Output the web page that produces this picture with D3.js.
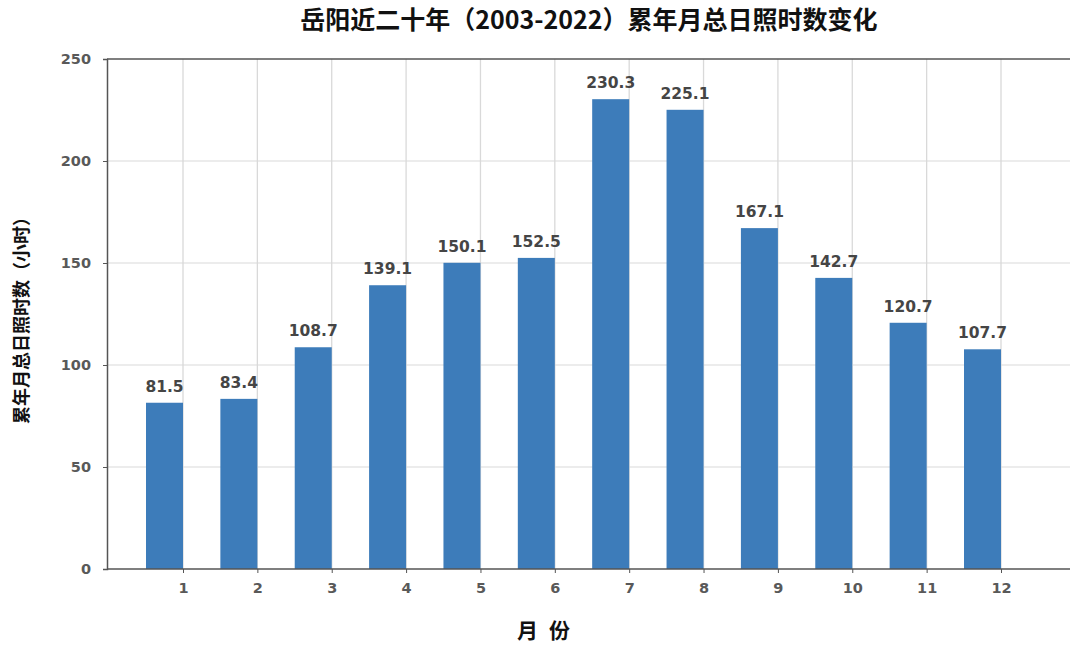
<!DOCTYPE html>
<html>
<head>
<meta charset="utf-8">
<script src="https://cdn.jsdelivr.net/npm/d3@7"></script>
<style>
  html, body { margin: 0; padding: 0; background: #fff; }
  svg { display: block; }
</style>
</head>
<body>
<svg id="chart" width="1071" height="645"></svg>
<script>
// Monthly sunshine hours, Yueyang, 2003–2022 averages
const months = [1, 2, 3, 4, 5, 6, 7, 8, 9, 10, 11, 12];
const sunshineHours = [81.5, 83.4, 108.7, 139.1, 150.1, 152.5, 230.3, 225.1, 167.1, 142.7, 120.7, 107.7];
const yTicks = [0, 50, 100, 150, 200, 250];

const titleText = "岳阳近二十年（2003-2022）累年月总日照时数变化";
const yTitle = "累年月总日照时数（小时）";
const xTitle = "月 份";

const svg = d3.select("#chart");
const plotLeft = 107, plotRight = 1070, plotTop = 59, plotBottom = 569;

const numFont = "'DejaVu Sans', Verdana, sans-serif";
const cjkFont = "'Noto Sans CJK SC', sans-serif";

// month positions: tick k sits at the right edge of its bar
const x = d3.scaleLinear().domain([1, 12]).range([183, 1001]);
const y = d3.scaleLinear().domain([0, 250]).range([plotBottom, plotTop]);
const barW = 37;

// horizontal grid
svg.append("g").selectAll("line")
  .data(yTicks.filter(t => t > 0 && t < 250))
  .join("line")
  .attr("x1", plotLeft).attr("x2", plotRight)
  .attr("y1", d => y(d)).attr("y2", d => y(d))
  .attr("stroke", "#d9d9d9").attr("stroke-width", 1);

// vertical grid at month ticks
svg.append("g").selectAll("line")
  .data(months)
  .join("line")
  .attr("x1", d => x(d)).attr("x2", d => x(d))
  .attr("y1", plotTop).attr("y2", plotBottom)
  .attr("stroke", "#d9d9d9").attr("stroke-width", 1.3);

// top border at 250
svg.append("line")
  .attr("x1", plotLeft).attr("x2", plotRight)
  .attr("y1", y(250)).attr("y2", y(250))
  .attr("stroke", "#555").attr("stroke-width", 1.5);

// bars
svg.append("g").selectAll("rect")
  .data(months)
  .join("rect")
  .attr("x", (d) => x(d) - barW)
  .attr("width", barW)
  .attr("y", (d, i) => y(sunshineHours[i]))
  .attr("height", (d, i) => y(0) - y(sunshineHours[i]))
  .attr("fill", "#3d7cba");

// value labels
svg.append("g").selectAll("text")
  .data(months)
  .join("text")
  .attr("x", d => x(d) - barW / 2)
  .attr("y", (d, i) => y(sunshineHours[i]) - 11)
  .attr("text-anchor", "middle")
  .attr("font-family", numFont)
  .attr("font-weight", "bold")
  .attr("font-size", "15.5px")
  .attr("fill", "#454545")
  .text((d, i) => sunshineHours[i].toFixed(1));

// y axis
const yAxis = d3.axisLeft(y).tickValues(yTicks).tickSize(4).tickPadding(12);
const gy = svg.append("g").attr("transform", `translate(${plotLeft},0)`).call(yAxis);
gy.select(".domain").attr("stroke", "#555").attr("stroke-width", 1.5);
gy.selectAll(".tick line").attr("stroke", "#555");
gy.selectAll(".tick text")
  .attr("font-family", numFont).attr("font-weight", "bold")
  .attr("font-size", "14.5px").attr("fill", "#595959");

// x axis
const xAxis = d3.axisBottom(x).tickValues(months).tickSize(4).tickPadding(10).tickFormat(d3.format("d"));
const gx = svg.append("g").attr("transform", `translate(0,${plotBottom})`).call(xAxis);
gx.select(".domain").remove();
gx.append("line")
  .attr("x1", plotLeft).attr("x2", plotRight)
  .attr("y1", 0).attr("y2", 0)
  .attr("stroke", "#555").attr("stroke-width", 1.5);
gx.selectAll(".tick line").attr("stroke", "#555");
gx.selectAll(".tick text")
  .attr("font-family", numFont).attr("font-weight", "bold")
  .attr("font-size", "14.5px").attr("fill", "#595959");

// titles
svg.append("text")
  .attr("x", 589).attr("y", 29)
  .attr("text-anchor", "middle")
  .attr("font-family", cjkFont).attr("font-weight", "bold")
  .attr("font-size", "25px").attr("fill", "#111")
  .text(titleText);

svg.append("text")
  .attr("transform", "translate(28,316) rotate(-90)")
  .attr("text-anchor", "middle")
  .attr("font-family", cjkFont).attr("font-weight", "bold")
  .attr("font-size", "18px").attr("fill", "#111")
  .text(yTitle);

svg.append("text")
  .attr("x", 545).attr("y", 638)
  .attr("text-anchor", "middle")
  .attr("font-family", cjkFont).attr("font-weight", "bold")
  .attr("font-size", "21px").attr("letter-spacing", "3px").attr("fill", "#111")
  .text(xTitle);
</script>
</body>
</html>
